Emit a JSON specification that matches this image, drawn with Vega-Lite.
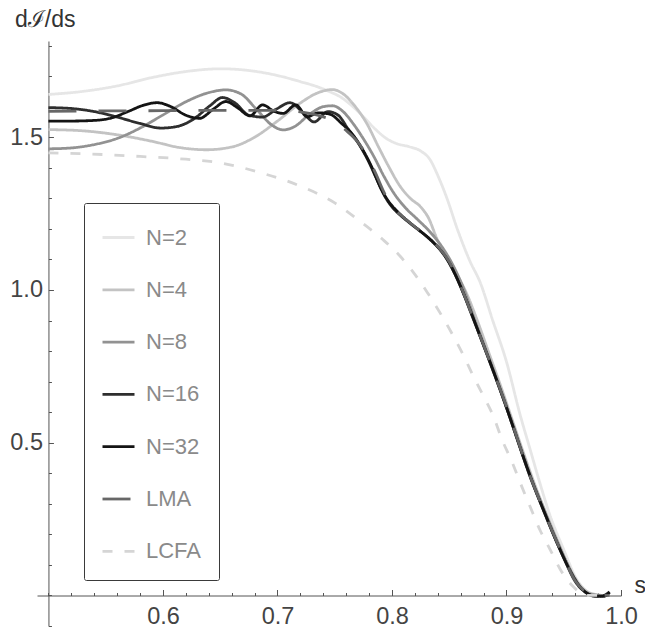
{
"$schema":"https://vega.github.io/schema/vega-lite/v6.json",
"autosize":"none",
"width":584,"height":585,
"padding":{"left":37,"top":41,"right":24,"bottom":5},
"background":"white",
"config":{"view":{"stroke":null},"font":"Liberation Sans"},
"data":{"values":[
{"s":0.50,"v":1.640,"series":"N=2"},{"s":0.53,"v":1.650,"series":"N=2"},{"s":0.56,"v":1.668,"series":"N=2"},{"s":0.59,"v":1.695,"series":"N=2"},{"s":0.62,"v":1.715,"series":"N=2"},{"s":0.65,"v":1.724,"series":"N=2"},{"s":0.68,"v":1.716,"series":"N=2"},{"s":0.70,"v":1.702,"series":"N=2"},{"s":0.72,"v":1.682,"series":"N=2"},{"s":0.735,"v":1.665,"series":"N=2"},{"s":0.745,"v":1.650,"series":"N=2"},{"s":0.755,"v":1.632,"series":"N=2"},{"s":0.765,"v":1.603,"series":"N=2"},{"s":0.775,"v":1.567,"series":"N=2"},{"s":0.785,"v":1.528,"series":"N=2"},{"s":0.795,"v":1.496,"series":"N=2"},{"s":0.805,"v":1.478,"series":"N=2"},{"s":0.815,"v":1.469,"series":"N=2"},{"s":0.825,"v":1.455,"series":"N=2"},{"s":0.833,"v":1.428,"series":"N=2"},{"s":0.84,"v":1.375,"series":"N=2"},{"s":0.848,"v":1.300,"series":"N=2"},{"s":0.857,"v":1.200,"series":"N=2"},{"s":0.868,"v":1.095,"series":"N=2"},{"s":0.877,"v":1.025,"series":"N=2"},{"s":0.888,"v":0.900,"series":"N=2"},{"s":0.90,"v":0.765,"series":"N=2"},{"s":0.912,"v":0.590,"series":"N=2"},{"s":0.9205,"v":0.480,"series":"N=2"},{"s":0.929,"v":0.370,"series":"N=2"},{"s":0.938,"v":0.262,"series":"N=2"},{"s":0.95,"v":0.150,"series":"N=2"},{"s":0.961,"v":0.055,"series":"N=2"},{"s":0.973,"v":0.008,"series":"N=2"},{"s":0.985,"v":0.0,"series":"N=2"},
{"s":0.50,"v":1.525,"series":"N=4"},{"s":0.53,"v":1.521,"series":"N=4"},{"s":0.56,"v":1.508,"series":"N=4"},{"s":0.59,"v":1.487,"series":"N=4"},{"s":0.615,"v":1.466,"series":"N=4"},{"s":0.638,"v":1.459,"series":"N=4"},{"s":0.66,"v":1.468,"series":"N=4"},{"s":0.68,"v":1.500,"series":"N=4"},{"s":0.70,"v":1.553,"series":"N=4"},{"s":0.72,"v":1.612,"series":"N=4"},{"s":0.735,"v":1.645,"series":"N=4"},{"s":0.748,"v":1.656,"series":"N=4"},{"s":0.758,"v":1.640,"series":"N=4"},{"s":0.768,"v":1.600,"series":"N=4"},{"s":0.778,"v":1.545,"series":"N=4"},{"s":0.788,"v":1.470,"series":"N=4"},{"s":0.797,"v":1.405,"series":"N=4"},{"s":0.807,"v":1.340,"series":"N=4"},{"s":0.816,"v":1.300,"series":"N=4"},{"s":0.825,"v":1.272,"series":"N=4"},{"s":0.832,"v":1.235,"series":"N=4"},{"s":0.839,"v":1.170,"series":"N=4"},{"s":0.846,"v":1.115,"series":"N=4"},{"s":0.855,"v":1.060,"series":"N=4"},{"s":0.865,"v":0.990,"series":"N=4"},{"s":0.875,"v":0.895,"series":"N=4"},{"s":0.885,"v":0.790,"series":"N=4"},{"s":0.895,"v":0.685,"series":"N=4"},{"s":0.905,"v":0.575,"series":"N=4"},{"s":0.915,"v":0.465,"series":"N=4"},{"s":0.925,"v":0.360,"series":"N=4"},{"s":0.935,"v":0.265,"series":"N=4"},{"s":0.945,"v":0.175,"series":"N=4"},{"s":0.955,"v":0.090,"series":"N=4"},{"s":0.965,"v":0.030,"series":"N=4"},{"s":0.975,"v":0.005,"series":"N=4"},{"s":0.985,"v":0.0,"series":"N=4"},
{"s":0.50,"v":1.462,"series":"N=8"},{"s":0.52,"v":1.465,"series":"N=8"},{"s":0.54,"v":1.476,"series":"N=8"},{"s":0.56,"v":1.496,"series":"N=8"},{"s":0.58,"v":1.530,"series":"N=8"},{"s":0.60,"v":1.573,"series":"N=8"},{"s":0.62,"v":1.616,"series":"N=8"},{"s":0.64,"v":1.646,"series":"N=8"},{"s":0.655,"v":1.655,"series":"N=8"},{"s":0.668,"v":1.642,"series":"N=8"},{"s":0.682,"v":1.590,"series":"N=8"},{"s":0.695,"v":1.540,"series":"N=8"},{"s":0.705,"v":1.524,"series":"N=8"},{"s":0.715,"v":1.535,"series":"N=8"},{"s":0.728,"v":1.575,"series":"N=8"},{"s":0.74,"v":1.600,"series":"N=8"},{"s":0.748,"v":1.603,"series":"N=8"},{"s":0.757,"v":1.585,"series":"N=8"},{"s":0.766,"v":1.545,"series":"N=8"},{"s":0.775,"v":1.495,"series":"N=8"},{"s":0.784,"v":1.438,"series":"N=8"},{"s":0.793,"v":1.372,"series":"N=8"},{"s":0.802,"v":1.315,"series":"N=8"},{"s":0.812,"v":1.268,"series":"N=8"},{"s":0.822,"v":1.232,"series":"N=8"},{"s":0.832,"v":1.195,"series":"N=8"},{"s":0.842,"v":1.150,"series":"N=8"},{"s":0.852,"v":1.090,"series":"N=8"},{"s":0.862,"v":1.010,"series":"N=8"},{"s":0.872,"v":0.905,"series":"N=8"},{"s":0.882,"v":0.805,"series":"N=8"},{"s":0.892,"v":0.705,"series":"N=8"},{"s":0.902,"v":0.600,"series":"N=8"},{"s":0.912,"v":0.490,"series":"N=8"},{"s":0.922,"v":0.382,"series":"N=8"},{"s":0.932,"v":0.288,"series":"N=8"},{"s":0.942,"v":0.198,"series":"N=8"},{"s":0.952,"v":0.113,"series":"N=8"},{"s":0.962,"v":0.040,"series":"N=8"},{"s":0.972,"v":0.006,"series":"N=8"},{"s":0.982,"v":0.0,"series":"N=8"},
{"s":0.50,"v":1.597,"series":"N=16"},{"s":0.52,"v":1.594,"series":"N=16"},{"s":0.54,"v":1.584,"series":"N=16"},{"s":0.56,"v":1.566,"series":"N=16"},{"s":0.58,"v":1.545,"series":"N=16"},{"s":0.598,"v":1.530,"series":"N=16"},{"s":0.612,"v":1.535,"series":"N=16"},{"s":0.627,"v":1.560,"series":"N=16"},{"s":0.641,"v":1.603,"series":"N=16"},{"s":0.652,"v":1.630,"series":"N=16"},{"s":0.663,"v":1.612,"series":"N=16"},{"s":0.675,"v":1.572,"series":"N=16"},{"s":0.687,"v":1.566,"series":"N=16"},{"s":0.699,"v":1.592,"series":"N=16"},{"s":0.711,"v":1.613,"series":"N=16"},{"s":0.722,"v":1.582,"series":"N=16"},{"s":0.732,"v":1.550,"series":"N=16"},{"s":0.744,"v":1.584,"series":"N=16"},{"s":0.753,"v":1.572,"series":"N=16"},{"s":0.762,"v":1.525,"series":"N=16"},{"s":0.771,"v":1.478,"series":"N=16"},{"s":0.779,"v":1.425,"series":"N=16"},{"s":0.787,"v":1.360,"series":"N=16"},{"s":0.794,"v":1.305,"series":"N=16"},{"s":0.80,"v":1.272,"series":"N=16"},{"s":0.81,"v":1.236,"series":"N=16"},{"s":0.82,"v":1.206,"series":"N=16"},{"s":0.83,"v":1.176,"series":"N=16"},{"s":0.84,"v":1.140,"series":"N=16"},{"s":0.85,"v":1.090,"series":"N=16"},{"s":0.86,"v":1.010,"series":"N=16"},{"s":0.87,"v":0.915,"series":"N=16"},{"s":0.88,"v":0.818,"series":"N=16"},{"s":0.89,"v":0.718,"series":"N=16"},{"s":0.90,"v":0.615,"series":"N=16"},{"s":0.91,"v":0.505,"series":"N=16"},{"s":0.92,"v":0.395,"series":"N=16"},{"s":0.93,"v":0.300,"series":"N=16"},{"s":0.94,"v":0.208,"series":"N=16"},{"s":0.95,"v":0.123,"series":"N=16"},{"s":0.96,"v":0.046,"series":"N=16"},{"s":0.97,"v":0.008,"series":"N=16"},{"s":0.978,"v":-0.003,"series":"N=16"},{"s":0.985,"v":0.0,"series":"N=16"},{"s":0.99,"v":0.012,"series":"N=16"},
{"s":0.50,"v":1.553,"series":"N=32"},{"s":0.52,"v":1.553,"series":"N=32"},{"s":0.54,"v":1.555,"series":"N=32"},{"s":0.555,"v":1.563,"series":"N=32"},{"s":0.57,"v":1.585,"series":"N=32"},{"s":0.584,"v":1.606,"series":"N=32"},{"s":0.595,"v":1.613,"series":"N=32"},{"s":0.607,"v":1.600,"series":"N=32"},{"s":0.62,"v":1.572,"series":"N=32"},{"s":0.632,"v":1.562,"series":"N=32"},{"s":0.644,"v":1.592,"series":"N=32"},{"s":0.655,"v":1.617,"series":"N=32"},{"s":0.665,"v":1.597,"series":"N=32"},{"s":0.676,"v":1.570,"series":"N=32"},{"s":0.687,"v":1.606,"series":"N=32"},{"s":0.697,"v":1.585,"series":"N=32"},{"s":0.705,"v":1.578,"series":"N=32"},{"s":0.716,"v":1.606,"series":"N=32"},{"s":0.726,"v":1.567,"series":"N=32"},{"s":0.736,"v":1.580,"series":"N=32"},{"s":0.746,"v":1.575,"series":"N=32"},{"s":0.756,"v":1.545,"series":"N=32"},{"s":0.765,"v":1.512,"series":"N=32"},{"s":0.774,"v":1.462,"series":"N=32"},{"s":0.782,"v":1.405,"series":"N=32"},{"s":0.79,"v":1.335,"series":"N=32"},{"s":0.797,"v":1.290,"series":"N=32"},{"s":0.805,"v":1.256,"series":"N=32"},{"s":0.815,"v":1.222,"series":"N=32"},{"s":0.825,"v":1.192,"series":"N=32"},{"s":0.835,"v":1.160,"series":"N=32"},{"s":0.845,"v":1.118,"series":"N=32"},{"s":0.855,"v":1.052,"series":"N=32"},{"s":0.865,"v":0.966,"series":"N=32"},{"s":0.875,"v":0.868,"series":"N=32"},{"s":0.885,"v":0.770,"series":"N=32"},{"s":0.895,"v":0.668,"series":"N=32"},{"s":0.905,"v":0.560,"series":"N=32"},{"s":0.915,"v":0.450,"series":"N=32"},{"s":0.925,"v":0.348,"series":"N=32"},{"s":0.935,"v":0.255,"series":"N=32"},{"s":0.945,"v":0.165,"series":"N=32"},{"s":0.955,"v":0.085,"series":"N=32"},{"s":0.965,"v":0.025,"series":"N=32"},{"s":0.975,"v":0.0,"series":"N=32"},{"s":0.985,"v":-0.003,"series":"N=32"},{"s":0.99,"v":0.01,"series":"N=32"},
{"s":0.50,"v":1.585,"series":"LMA"},{"s":0.55,"v":1.586,"series":"LMA"},{"s":0.60,"v":1.587,"series":"LMA"},{"s":0.65,"v":1.588,"series":"LMA"},{"s":0.70,"v":1.588,"series":"LMA"},{"s":0.72,"v":1.583,"series":"LMA"},{"s":0.735,"v":1.572,"series":"LMA"},{"s":0.748,"v":1.555,"series":"LMA"},{"s":0.76,"v":1.522,"series":"LMA"},{"s":0.77,"v":1.485,"series":"LMA"},{"s":0.778,"v":1.440,"series":"LMA"},{"s":0.786,"v":1.380,"series":"LMA"},{"s":0.793,"v":1.320,"series":"LMA"},{"s":0.80,"v":1.275,"series":"LMA"},{"s":0.81,"v":1.238,"series":"LMA"},{"s":0.82,"v":1.207,"series":"LMA"},{"s":0.83,"v":1.177,"series":"LMA"},{"s":0.84,"v":1.142,"series":"LMA"},{"s":0.85,"v":1.092,"series":"LMA"},{"s":0.86,"v":1.012,"series":"LMA"},{"s":0.87,"v":0.917,"series":"LMA"},{"s":0.88,"v":0.820,"series":"LMA"},{"s":0.89,"v":0.720,"series":"LMA"},{"s":0.90,"v":0.618,"series":"LMA"},{"s":0.91,"v":0.507,"series":"LMA"},{"s":0.92,"v":0.397,"series":"LMA"},{"s":0.93,"v":0.302,"series":"LMA"},{"s":0.94,"v":0.210,"series":"LMA"},{"s":0.95,"v":0.125,"series":"LMA"},{"s":0.96,"v":0.048,"series":"LMA"},{"s":0.97,"v":0.010,"series":"LMA"},{"s":0.98,"v":0.0,"series":"LMA"},{"s":0.99,"v":0.0,"series":"LMA"},
{"s":0.50,"v":1.449,"series":"LCFA"},{"s":0.55,"v":1.443,"series":"LCFA"},{"s":0.58,"v":1.437,"series":"LCFA"},{"s":0.62,"v":1.428,"series":"LCFA"},{"s":0.65,"v":1.416,"series":"LCFA"},{"s":0.685,"v":1.384,"series":"LCFA"},{"s":0.72,"v":1.340,"series":"LCFA"},{"s":0.75,"v":1.285,"series":"LCFA"},{"s":0.772,"v":1.225,"series":"LCFA"},{"s":0.792,"v":1.165,"series":"LCFA"},{"s":0.807,"v":1.111,"series":"LCFA"},{"s":0.819,"v":1.056,"series":"LCFA"},{"s":0.831,"v":0.991,"series":"LCFA"},{"s":0.842,"v":0.925,"series":"LCFA"},{"s":0.852,"v":0.860,"series":"LCFA"},{"s":0.862,"v":0.789,"series":"LCFA"},{"s":0.871,"v":0.718,"series":"LCFA"},{"s":0.880,"v":0.652,"series":"LCFA"},{"s":0.8885,"v":0.587,"series":"LCFA"},{"s":0.896,"v":0.511,"series":"LCFA"},{"s":0.9045,"v":0.440,"series":"LCFA"},{"s":0.912,"v":0.369,"series":"LCFA"},{"s":0.9205,"v":0.292,"series":"LCFA"},{"s":0.929,"v":0.216,"series":"LCFA"},{"s":0.938,"v":0.151,"series":"LCFA"},{"s":0.947,"v":0.085,"series":"LCFA"},{"s":0.958,"v":0.030,"series":"LCFA"},{"s":0.970,"v":0.0,"series":"LCFA"},{"s":0.98,"v":0.0,"series":"LCFA"}
]},
"layer":[
{"mark":{"type":"line","interpolate":"monotone","clip":true},
 "encoding":{
  "x":{"field":"s","type":"quantitative","scale":{"domain":[0.49,1.0],"nice":false,"zero":false},
   "axis":{"orient":"bottom","values":[0.6,0.7,0.8,0.9,1.0],"format":".1f","tickSize":-6,"offset":-30.5,"labelPadding":15,"grid":false,"labelFlush":false,"labelOverlap":false,"labelFontSize":23.5,"labelColor":"#444","domainColor":"#555","tickColor":"#555","title":"s","titleX":597,"titleY":-3,"titleAlign":"left","titleAnchor":null,"titleBaseline":"alphabetic","titleFontSize":23,"titleFontWeight":"normal","titleColor":"#333","titlePadding":0}},
  "y":{"field":"v","type":"quantitative","scale":{"domain":[-0.1,1.815],"nice":false,"zero":false},
   "axis":{"orient":"left","values":[0.5,1.0,1.5],"format":".1f","tickSize":-5,"offset":-11.45,"labelPadding":11,"grid":false,"labelFlush":false,"labelOverlap":false,"labelFontSize":23.5,"labelColor":"#444","domainColor":"#555","tickColor":"#555","title":"dℐ/ds","titleAngle":0,"titleX":-34,"titleY":-15,"titleAlign":"left","titleAnchor":null,"titleBaseline":"alphabetic","titleFontSize":23,"titleFontWeight":"normal","titleColor":"#333"}},
  "color":{"field":"series","type":"nominal","scale":{"domain":["N=2","N=4","N=8","N=16","N=32","LMA","LCFA"],"range":["#e6e6e6","#c3c3c3","#929292","#2e2e2e","#141414","#676767","#d5d5d5"]},
   "legend":{"title":null,"orient":"none","legendX":47,"legendY":162,"strokeColor":"#3a3a3a","fillColor":"white","padding":17,"rowPadding":23.3,"symbolType":"stroke","symbolSize":1024,"labelOffset":10,"labelFontSize":22,"labelColor":"#8a8a8a","cornerRadius":2,"symbolOpacity":1}},
  "strokeDash":{"field":"series","type":"nominal","scale":{"domain":["N=2","N=4","N=8","N=16","N=32","LMA","LCFA"],"range":[[1,0],[1,0],[1,0],[1,0],[1,0],[28,22],[10,12]]},
   "legend":{"title":null,"orient":"none","legendX":47,"legendY":162,"strokeColor":"#3a3a3a","fillColor":"white","padding":17,"rowPadding":23.3,"symbolType":"stroke","symbolSize":1024,"labelOffset":10,"labelFontSize":22,"labelColor":"#8a8a8a","cornerRadius":2,"symbolOpacity":1}},
  "strokeWidth":{"field":"series","type":"nominal","scale":{"domain":["N=2","N=4","N=8","N=16","N=32","LMA","LCFA"],"range":[2.8,2.8,2.8,2.8,2.8,5,5]},
   "legend":{"title":null,"orient":"none","legendX":47,"legendY":162,"strokeColor":"#3a3a3a","fillColor":"white","padding":17,"rowPadding":23.3,"symbolType":"stroke","symbolSize":1024,"labelOffset":10,"labelFontSize":22,"labelColor":"#8a8a8a","cornerRadius":2,"symbolOpacity":1}}
 }},
{"mark":{"type":"point","opacity":0},
 "encoding":{
  "x":{"field":"s","type":"quantitative","scale":{"domain":[0.49,1.0],"nice":false,"zero":false},
   "axis":{"orient":"bottom","values":[0.5,0.52,0.54,0.56,0.58,0.6,0.62,0.64,0.66,0.68,0.7,0.72,0.74,0.76,0.78,0.8,0.82,0.84,0.86,0.88,0.9,0.92,0.94,0.96,0.98,1.0],"tickSize":-3,"offset":-30.5,"labels":false,"domain":false,"grid":false,"tickColor":"#555","title":null}},
  "y":{"field":"v","type":"quantitative","scale":{"domain":[-0.1,1.815],"nice":false,"zero":false},
   "axis":{"orient":"left","values":[-0.1,0,0.1,0.2,0.3,0.4,0.5,0.6,0.7,0.8,0.9,1.0,1.1,1.2,1.3,1.4,1.5,1.6,1.7,1.8],"tickSize":-3,"offset":-11.45,"labels":false,"domain":false,"grid":false,"tickColor":"#555","title":null}}
 }}
],
"resolve":{"axis":{"x":"independent","y":"independent"}}
}
